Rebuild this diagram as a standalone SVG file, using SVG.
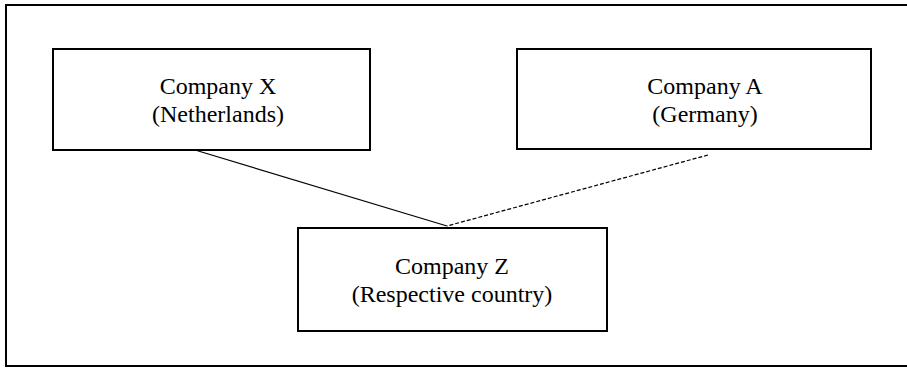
<svg xmlns="http://www.w3.org/2000/svg" width="907" height="369" viewBox="0 0 907 369">
  <style>
    .frame { fill: none; stroke: #000; stroke-width: 2; }
    .box { fill: #fff; stroke: #000; stroke-width: 2; }
    .label { font-family: "Liberation Serif", "Times New Roman", serif; font-size: 24px; fill: #000; text-anchor: middle; }
    .link { stroke: #000; stroke-width: 1.2; fill: none; }
    .dashed { stroke-dasharray: 4 2; }
  </style>
  <rect width="907" height="369" fill="#fff"/>
  <!-- outer frame (right side runs past the page edge) -->
  <rect class="frame" x="6" y="5" width="920" height="361"/>

  <g id="connectors">
    <line class="link" x1="195" y1="150" x2="447" y2="226"/>
    <line class="link dashed" x1="708" y1="155" x2="447" y2="226"/>
  </g>

  <g id="company-x">
    <rect class="box" x="53" y="49" width="317" height="101"/>
    <text class="label" x="218" y="94">Company X</text>
    <text class="label" x="218" y="122">(Netherlands)</text>
  </g>

  <g id="company-a">
    <rect class="box" x="517" y="49" width="354" height="100"/>
    <text class="label" x="705" y="94">Company A</text>
    <text class="label" x="705" y="122">(Germany)</text>
  </g>

  <g id="company-z">
    <rect class="box" x="298" y="228" width="309" height="103"/>
    <text class="label" x="452" y="274">Company Z</text>
    <text class="label" x="452" y="302">(Respective country)</text>
  </g>
</svg>
